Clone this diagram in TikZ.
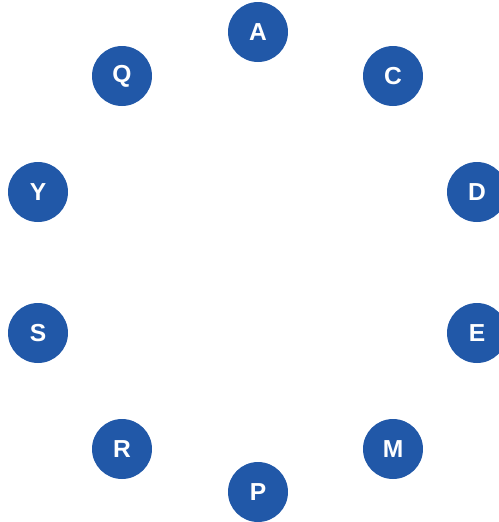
\documentclass[tikz,border=0pt]{standalone}
\usepackage{fontspec}
\setsansfont{Liberation Sans}
\definecolor{dotblue}{HTML}{2158A8}
\tikzset{letter/.style={circle,fill=dotblue,text=white,minimum size=1.2cm,inner sep=0pt,font=\sffamily\bfseries\fontsize{14}{14}\selectfont}}

\begin{document}
\begin{tikzpicture}[x=0.02cm,y=-0.02cm]
	\useasboundingbox (0,0) rectangle (499,522);
	\node[letter] (A) at (258,32){A};
	\node[letter] (C) at (393,76){C};
	\node[letter] (D) at (477,192){D};
	\node[letter] (E) at (477,333){E};
	\node[letter] (M) at (393,449){M};
	\node[letter] (P) at (258,492){P};
	\node[letter] (R) at (122,449){R};
	\node[letter] (S) at (38,333){S};
	\node[letter] (Y) at (38,192){Y};
	\node[letter] (Q) at (122,76){Q};
\end{tikzpicture}
\end{document}
